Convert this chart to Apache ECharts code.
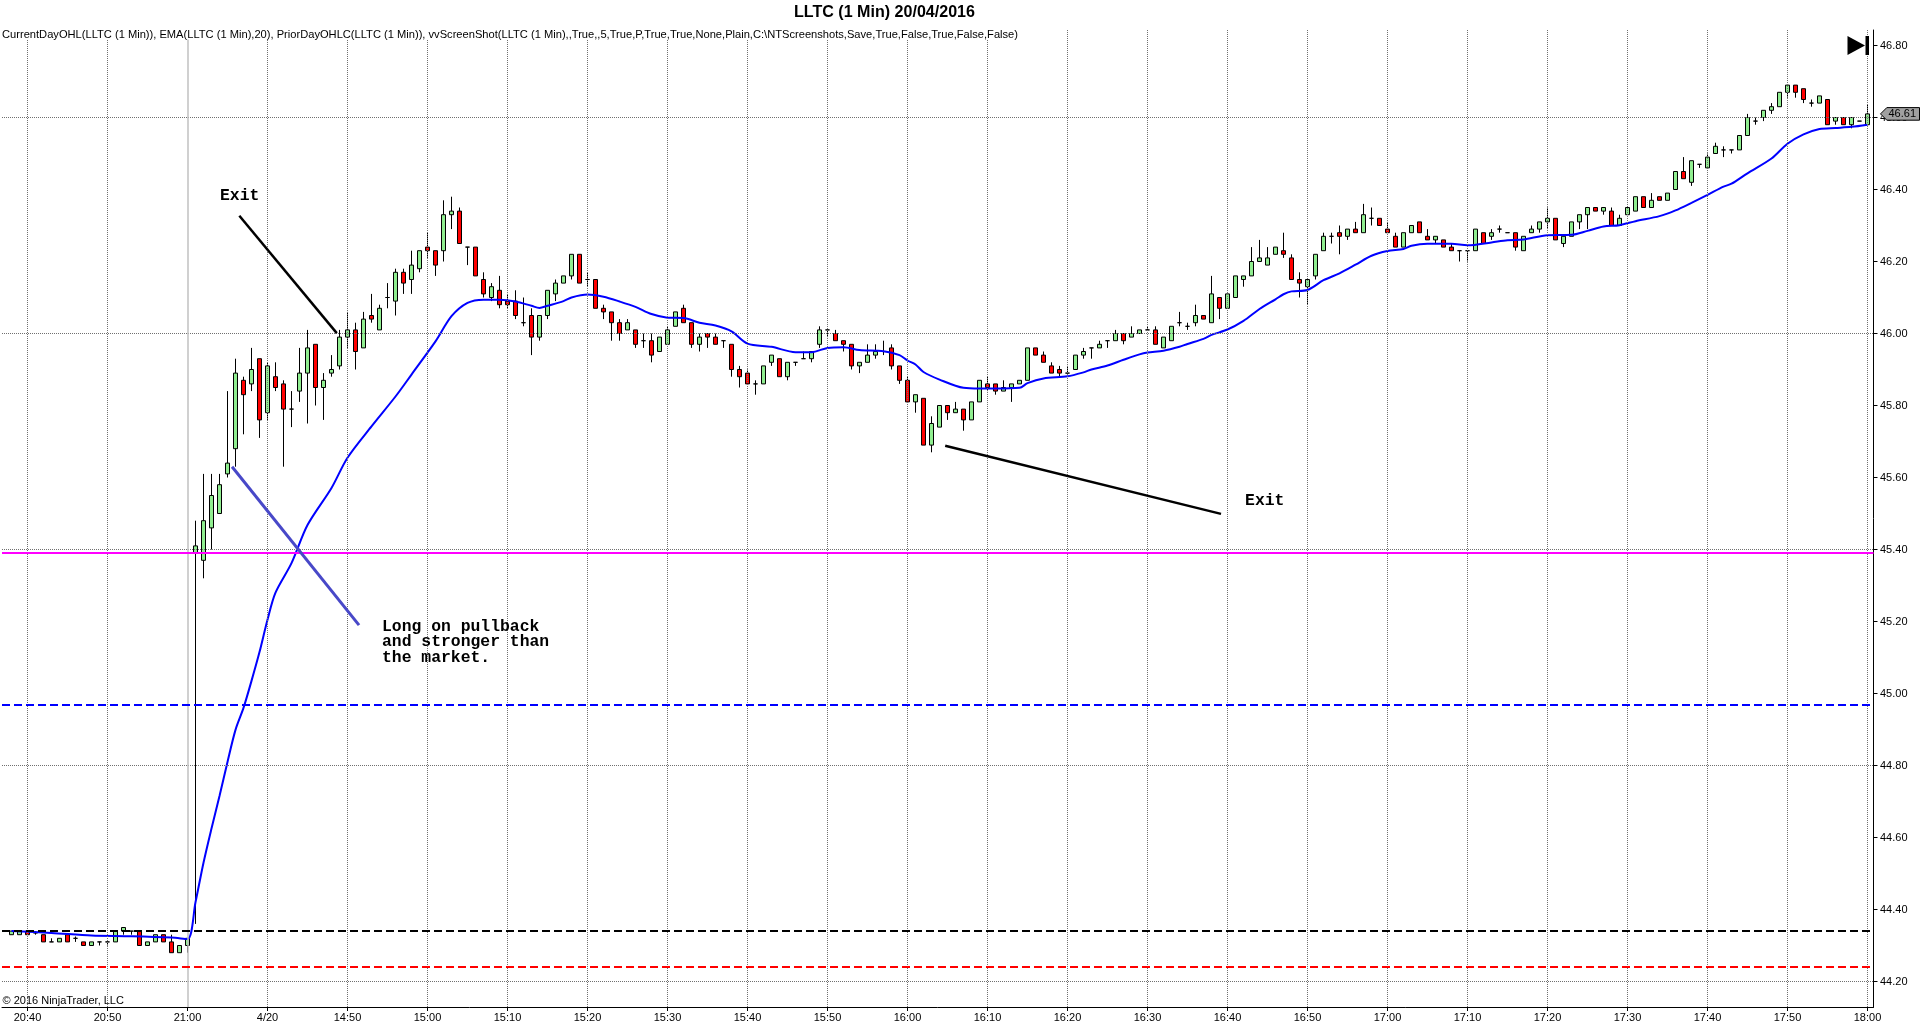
<!DOCTYPE html>
<html>
<head>
<meta charset="utf-8">
<script src="https://cdn.jsdelivr.net/npm/echarts@6/dist/echarts.min.js"></script>
<style>
html,body{margin:0;padding:0;background:#fff;}
#c{width:1920px;height:1034px;}
</style>
</head>
<body>
<div id="c"></div>
<script>
// ---------- DATA (bar index 0 = 19/04 20:38, 23 = 20/04 14:31, 232 = 18:00) ----------
const tickBars = [2,12,22,32,42,52,62,72,82,92,102,112,122,132,142,152,162,172,182,192,202,212,222,232];
const tickLabels = ['20:40','20:50','21:00','4/20','14:50','15:00','15:10','15:20','15:30','15:40','15:50','16:00','16:10','16:20','16:30','16:40','16:50','17:00','17:10','17:20','17:30','17:40','17:50','18:00'];
const priceTicks = [44.2,44.4,44.6,44.8,45.0,45.2,45.4,45.6,45.8,46.0,46.2,46.4,46.6,46.8];
const priceGrid = [44.2,44.8,45.4,46.0,46.6];
const sessionBreakBar = 22;

const opens = [
44.33,44.33,44.34,44.335,44.33,44.31,44.31,44.33,44.32,44.31,44.30,44.31,44.31,44.31,44.34,44.34,44.34,44.30,44.31,44.33,44.31,44.28,44.30,
45.39,45.37,45.46,45.50,45.61,45.68,45.87,45.86,45.93,
45.78,45.88,45.86,45.79,45.84,45.89,45.97,45.85,45.89,45.91,
45.99,46.01,45.96,46.05,46.01,46.10,46.09,46.17,46.15,46.18,
46.24,46.23,46.23,46.33,46.34,46.24,46.24,46.15,46.10,46.12,
46.09,46.09,46.03,46.05,45.99,46.05,46.11,46.14,46.16,46.22,
46.15,46.15,46.07,46.06,46.03,46.01,46.01,45.98,45.98,45.95,
45.97,46.02,46.07,46.03,45.97,46.00,45.99,45.98,45.97,45.90,
45.89,45.86,45.86,45.92,45.93,45.88,45.92,45.93,45.93,45.97,
46.01,46.00,45.98,45.97,45.91,45.92,45.94,45.95,45.96,45.91,
45.87,45.81,45.82,45.69,45.74,45.80,45.78,45.79,45.76,45.81,
45.86,45.86,45.84,45.85,45.86,45.87,45.96,45.94,45.91,45.90,
45.89,45.90,45.94,45.96,45.96,45.98,45.98,46.00,45.99,46.00,
46.01,46.01,45.96,45.98,46.03,46.02,46.03,46.05,46.03,46.10,
46.07,46.10,46.15,46.16,46.20,46.19,46.22,46.23,46.21,46.15,
46.13,46.16,46.23,46.27,46.28,46.27,46.29,46.28,46.32,46.32,
46.29,46.27,46.24,46.28,46.31,46.27,46.26,46.26,46.24,46.23,
46.23,46.23,46.28,46.27,46.29,46.28,46.28,46.23,46.28,46.29,
46.31,46.32,46.25,46.27,46.31,46.33,46.35,46.34,46.34,46.30,
46.33,46.34,46.38,46.35,46.38,46.37,46.40,46.45,46.42,46.47,
46.46,46.50,46.51,46.51,46.51,46.55,46.59,46.60,46.62,46.63,
46.67,46.69,46.68,46.64,46.64,46.65,46.59,46.60,46.58,46.59,46.58
];
const highs = [
44.34,44.34,44.34,44.34,44.33,44.32,44.32,44.33,44.325,44.31,44.31,44.31,44.31,44.34,44.35,44.34,44.34,44.31,44.33,44.33,44.33,44.30,44.32,
45.48,45.61,45.61,45.61,45.84,45.93,45.88,45.96,45.93,
45.92,45.92,45.87,45.84,45.96,46.01,45.97,45.89,45.94,46.01,
46.06,46.03,46.06,46.11,46.08,46.14,46.18,46.18,46.23,46.23,
46.28,46.23,46.37,46.38,46.35,46.24,46.24,46.17,46.14,46.16,
46.11,46.12,46.10,46.07,46.05,46.12,46.15,46.16,46.22,46.22,
46.17,46.15,46.08,46.06,46.04,46.04,46.01,46.00,46.00,45.99,
46.02,46.06,46.08,46.03,46.00,46.00,46.00,45.98,45.97,45.91,
45.90,45.87,45.91,45.94,45.93,45.92,45.92,45.95,45.95,46.02,
46.01,46.01,45.98,45.97,45.92,45.97,45.97,45.98,45.97,45.91,
45.88,45.83,45.82,45.77,45.80,45.80,45.81,45.79,45.81,45.87,
45.88,45.86,45.87,45.86,45.87,45.96,45.96,45.95,45.92,45.91,
45.91,45.94,45.96,45.96,45.98,45.98,46.01,46.00,46.02,46.01,
46.02,46.02,45.99,46.02,46.06,46.03,46.08,46.05,46.16,46.10,
46.11,46.16,46.16,46.24,46.26,46.24,46.24,46.28,46.22,46.17,
46.15,46.22,46.28,46.28,46.30,46.29,46.31,46.36,46.35,46.32,
46.31,46.28,46.28,46.30,46.31,46.29,46.27,46.26,46.25,46.23,
46.23,46.29,46.28,46.29,46.30,46.28,46.28,46.27,46.30,46.31,
46.35,46.32,46.27,46.31,46.33,46.35,46.35,46.35,46.35,46.33,
46.35,46.38,46.38,46.39,46.38,46.39,46.45,46.49,46.48,46.47,
46.50,46.53,46.52,46.51,46.55,46.61,46.60,46.62,46.64,46.67,
46.69,46.69,46.68,46.65,46.66,46.65,46.60,46.60,46.60,46.59,46.635
];
const lows = [
44.33,44.33,44.33,44.33,44.31,44.31,44.31,44.31,44.31,44.30,44.30,44.30,44.30,44.31,44.33,44.33,44.30,44.30,44.31,44.31,44.28,44.28,44.28,
44.36,45.32,45.40,45.50,45.60,45.63,45.72,45.84,45.71,
45.76,45.84,45.63,45.74,45.81,45.75,45.80,45.76,45.88,45.90,
45.96,45.90,45.96,46.03,46.01,46.07,46.05,46.11,46.11,46.17,
46.21,46.16,46.20,46.29,46.25,46.19,46.16,46.10,46.09,46.07,
46.07,46.04,46.02,45.94,45.98,46.04,46.09,46.14,46.15,46.14,
46.13,46.07,46.04,45.98,45.98,46.01,45.96,45.96,45.92,45.95,
45.97,46.02,46.03,45.96,45.95,45.96,45.97,45.96,45.88,45.85,
45.86,45.83,45.86,45.91,45.88,45.87,45.91,45.93,45.92,45.96,
45.99,45.98,45.95,45.90,45.89,45.92,45.93,45.94,45.90,45.86,
45.81,45.78,45.69,45.67,45.74,45.76,45.78,45.73,45.76,45.81,
45.84,45.83,45.84,45.81,45.86,45.87,45.94,45.92,45.89,45.88,
45.89,45.90,45.93,45.93,45.96,45.96,45.98,45.97,45.99,46.00,
46.01,45.97,45.96,45.98,46.02,46.01,46.02,46.04,46.03,46.04,
46.07,46.10,46.13,46.16,46.20,46.19,46.22,46.21,46.15,46.10,
46.08,46.15,46.23,46.25,46.22,46.26,46.28,46.28,46.30,46.30,
46.28,46.24,46.24,46.28,46.28,46.26,46.25,46.24,46.23,46.20,
46.20,46.23,46.25,46.26,46.28,46.28,46.23,46.23,46.28,46.28,
46.29,46.26,46.24,46.27,46.29,46.29,46.34,46.33,46.30,46.30,
46.33,46.34,46.35,46.35,46.37,46.37,46.40,46.43,46.41,46.46,
46.46,46.50,46.49,46.50,46.51,46.55,46.58,46.59,46.61,46.63,
46.655,46.655,46.64,46.63,46.64,46.58,46.58,46.58,46.57,46.59,46.58
];
const closes = [
44.34,44.34,44.33,44.335,44.31,44.31,44.32,44.31,44.32,44.30,44.31,44.31,44.31,44.34,44.35,44.34,44.30,44.31,44.33,44.31,44.28,44.30,44.32,
45.41,45.48,45.55,45.58,45.64,45.89,45.83,45.90,45.76,
45.91,45.85,45.79,45.79,45.89,45.96,45.85,45.87,45.90,45.99,
46.01,45.95,46.04,46.04,46.07,46.10,46.17,46.14,46.19,46.23,
46.23,46.19,46.33,46.34,46.25,46.24,46.16,46.11,46.13,46.08,
46.08,46.05,46.03,45.99,46.05,46.12,46.14,46.16,46.22,46.14,
46.15,46.07,46.06,46.03,46.00,46.03,45.97,45.98,45.94,45.99,
46.01,46.06,46.03,45.97,45.99,45.99,45.97,45.98,45.90,45.88,
45.86,45.86,45.91,45.94,45.88,45.92,45.92,45.93,45.95,46.01,
46.01,45.98,45.97,45.91,45.92,45.94,45.95,45.95,45.91,45.87,
45.81,45.83,45.69,45.75,45.80,45.78,45.79,45.76,45.81,45.87,
45.85,45.84,45.85,45.86,45.87,45.96,45.94,45.92,45.89,45.89,
45.89,45.94,45.95,45.96,45.97,45.98,46.00,45.98,46.00,46.01,
46.01,45.97,45.99,46.02,46.03,46.02,46.05,46.04,46.11,46.07,
46.11,46.16,46.16,46.20,46.21,46.21,46.24,46.22,46.15,46.14,
46.15,46.22,46.27,46.27,46.27,46.29,46.28,46.33,46.32,46.30,
46.28,46.24,46.28,46.30,46.28,46.26,46.27,46.24,46.23,46.23,
46.23,46.29,46.25,46.28,46.29,46.28,46.24,46.27,46.29,46.31,
46.32,46.26,46.27,46.31,46.33,46.35,46.34,46.35,46.30,46.32,
46.35,46.38,46.35,46.37,46.37,46.39,46.45,46.43,46.48,46.47,
46.49,46.52,46.51,46.51,46.55,46.60,46.59,46.62,46.63,46.67,
46.69,46.67,46.65,46.64,46.66,46.58,46.60,46.58,46.60,46.59,46.61
];

// EMA(20) at these bars
const emaBars = [0,5,10,15,20,22,23,24,25,26,27,28,29,30,31,32,33,35,37,40,42,45,48,50,53,55,57,59,61,63,65,66,67,69,70,72,74,76,78,80,82,84,86,88,90,92,95,98,100,102,104,106,109,111,112,113,114,116,119,121,123,126,127,129,132,134,135,137,139,141,142,144,146,147,149,150,152,154,156,158,159,160,162,164,166,168,170,172,174,175,177,180,182,185,187,189,192,195,197,199,201,203,206,208,210,212,214,215,217,220,222,224,226,228,230,232];
const emaValues = [44.340,44.335,44.328,44.326,44.322,44.318,44.420,44.530,44.625,44.715,44.810,44.899,44.960,45.035,45.115,45.205,45.280,45.362,45.468,45.571,45.655,45.742,45.825,45.886,45.978,46.048,46.085,46.094,46.094,46.089,46.077,46.071,46.077,46.090,46.100,46.108,46.102,46.089,46.074,46.054,46.044,46.043,46.030,46.022,46.006,45.972,45.963,45.948,45.948,45.960,45.962,45.954,45.951,45.940,45.925,45.914,45.893,45.872,45.849,45.847,45.847,45.849,45.862,45.875,45.881,45.892,45.900,45.911,45.927,45.942,45.947,45.952,45.963,45.971,45.985,45.996,46.011,46.035,46.068,46.095,46.109,46.117,46.121,46.148,46.167,46.191,46.216,46.229,46.235,46.244,46.249,46.249,46.245,46.253,46.259,46.261,46.273,46.274,46.285,46.297,46.301,46.312,46.326,46.342,46.363,46.385,46.408,46.416,46.445,46.486,46.527,46.553,46.568,46.571,46.574,46.580];

// Level lines
const currentDayOpen = 45.392;
const priorDayHigh = 44.973;
const priorDayClose = 44.342;
const priorDayLow = 44.241;
const lastPrice = 46.61;

// Hand-drawn annotations, anchored in (bar, price)
const exitLine1 = [[28.48, 46.327], [40.66, 46.001]];
const longLine = [[27.57, 45.630], [43.44, 45.190]];
const exitLine2 = [[116.71, 45.688], [151.19, 45.499]];
const annoTexts = ['Exit', 'Long on pullback\nand stronger than\nthe market.', 'Exit'];
const annoAnchors = [[26.06, 46.383], [46.31, 45.185], [154.2, 45.536]];

const titleText = 'LLTC (1 Min) 20/04/2016';
const indicatorText = 'CurrentDayOHL(LLTC (1 Min)), EMA(LLTC (1 Min),20), PriorDayOHLC(LLTC (1 Min)), vvScreenShot(LLTC (1 Min),,True,,5,True,P,True,True,None,Plain,C:\\NTScreenshots,Save,True,False,True,False,False)';
const copyrightText = '\u00A9 2016 NinjaTrader, LLC';

// ---------- CHART ----------
const candleData = opens.map((o, k) => [k, o, closes[k], lows[k], highs[k]]);
const emaData = emaBars.map((b, k) => [b, emaValues[k]]);

const FONT = '"Liberation Sans", Arial, sans-serif';
const dotted = {type: [1, 1], color: '#707070', width: 1};

const gridLines = [];
tickBars.forEach(b => { if (b !== sessionBreakBar) gridLines.push({xAxis: b, lineStyle: dotted}); });
priceGrid.forEach(p => gridLines.push({yAxis: p, lineStyle: dotted}));

const chart = echarts.init(document.getElementById('c'), null, {renderer: 'canvas'});
const option = {
  animation: false,
  backgroundColor: '#fff',
  grid: {left: 2, right: 46.5, top: 30, bottom: 27, containLabel: false},
  xAxis: {
    type: 'value', min: -1.1875, max: 232.75,
    axisLine: {show: true, onZero: false, lineStyle: {color: '#000', width: 1}},
    axisTick: {show: true, customValues: tickBars, length: 4, lineStyle: {color: '#000', width: 1}},
    axisLabel: {
      show: true, customValues: tickBars, margin: 5.5, color: '#000', fontSize: 11, fontFamily: FONT,
      formatter: v => tickLabels[Math.round((v - tickBars[0]) / 10)] || ''
    },
    splitLine: {show: false}
  },
  yAxis: {
    type: 'value', position: 'right', min: 44.129167, max: 46.843056,
    axisLine: {show: true, onZero: false, lineStyle: {color: '#000', width: 1}},
    axisTick: {show: true, customValues: priceTicks, length: 4, lineStyle: {color: '#000', width: 1}},
    axisLabel: {
      show: true, customValues: priceTicks, margin: 6.5, color: '#000', fontSize: 11, fontFamily: FONT,
      formatter: v => Number(v).toFixed(2)
    },
    splitLine: {show: false}
  },
  series: [
    {
      type: 'line', name: 'grid', data: [], silent: true, z: 1,
      markLine: {silent: true, symbol: ['none', 'none'], label: {show: false}, animation: false,
        emphasis: {disabled: true}, data: gridLines}
    },
    {
      type: 'line', name: 'levels', data: [], silent: true, z: 2,
      markLine: {silent: true, symbol: ['none', 'none'], label: {show: false}, animation: false,
        emphasis: {disabled: true},
        data: [
          {xAxis: sessionBreakBar, lineStyle: {type: 'solid', color: '#c0c0c0', width: 1.5}},
          {yAxis: currentDayOpen, lineStyle: {type: 'solid', color: '#ff00ff', width: 2}},
          {yAxis: priorDayHigh, lineStyle: {type: [8, 4], color: '#0000ff', width: 2}},
          {yAxis: priorDayClose, lineStyle: {type: [8, 4], color: '#000000', width: 2}},
          {yAxis: priorDayLow, lineStyle: {type: [8, 4], color: '#ff0000', width: 2}}
        ]}
    },
    {
      type: 'candlestick', name: 'LLTC', data: candleData,
      encode: {x: 0, y: [1, 2, 3, 4]},
      barWidth: 5, silent: true, z: 3,
      itemStyle: {color: '#90ee90', color0: '#ff0000', borderColor: '#000', borderColor0: '#000', borderColorDoji: '#000', borderWidth: 1}
    },
    {
      type: 'line', name: 'EMA', data: emaData, showSymbol: false, symbol: 'none', smooth: 0.3,
      silent: true, z: 4, lineStyle: {color: '#0000ff', width: 2}
    },
    {
      type: 'line', name: 'annotations', data: [], silent: true, z: 5,
      markLine: {silent: true, symbol: ['none', 'none'], label: {show: false}, animation: false,
        emphasis: {disabled: true},
        data: [
          [{coord: exitLine1[0], lineStyle: {type: 'solid', color: '#000', width: 2.5}}, {coord: exitLine1[1]}],
          [{coord: longLine[0], lineStyle: {type: 'solid', color: '#4848c8', width: 3}}, {coord: longLine[1]}],
          [{coord: exitLine2[0], lineStyle: {type: 'solid', color: '#000', width: 2.5}}, {coord: exitLine2[1]}]
        ]}
    }
  ]
};
chart.setOption(option);

// ---------- overlay texts / widgets ----------
function measure(text, font) {
  const ctx = document.createElement('canvas').getContext('2d');
  ctx.font = font;
  return ctx.measureText(text).width;
}
const P = (x, y) => chart.convertToPixel({xAxisIndex: 0, yAxisIndex: 0}, [x, y]);

const titleFont = 'bold 17px "Liberation Sans", Arial, sans-serif';
const titleScale = 181 / measure(titleText, titleFont);
const indFont = '11px "Liberation Sans", Arial, sans-serif';
const indScale = 1016 / measure(indicatorText, indFont);
const monoFont = 'bold 16.4px "Liberation Mono", "Courier New", monospace';
const monoLH = 15.3;

const graphics = [
  {type: 'text', x: 884.5, y: 12.5, scaleX: titleScale, z: 60, silent: true,
    style: {text: titleText, font: titleFont, fill: '#000', textAlign: 'center', textVerticalAlign: 'middle', align: 'center', verticalAlign: 'middle'}},
  {type: 'rect', shape: {x: 0, y: 30, width: 1022, height: 9.5}, style: {fill: '#fff'}, z: 59, silent: true},
  {type: 'text', x: 2, y: 35, scaleX: indScale, z: 60, silent: true,
    style: {text: indicatorText, font: indFont, fill: '#000', textAlign: 'left', textVerticalAlign: 'middle', align: 'left', verticalAlign: 'middle'}},
  {type: 'text', x: 2.5, y: 1000.7, z: 60, silent: true,
    style: {text: copyrightText, font: indFont, fill: '#000', textAlign: 'left', textVerticalAlign: 'middle', align: 'left', verticalAlign: 'middle'}},
  {type: 'polygon', shape: {points: [[1847.5, 36], [1865, 45.5], [1847.5, 55]]}, style: {fill: '#000'}, z: 60, silent: true},
  {type: 'rect', shape: {x: 1865.5, y: 36, width: 3.5, height: 19}, style: {fill: '#000'}, z: 60, silent: true}
];

annoTexts.forEach((t, k) => {
  const p = P(annoAnchors[k][0], annoAnchors[k][1]);
  graphics.push({type: 'text', x: p[0], y: p[1] - monoLH / 2, z: 60, silent: true,
    style: {text: t, font: monoFont, fill: '#000', lineHeight: monoLH, textAlign: 'left', textVerticalAlign: 'top', align: 'left', verticalAlign: 'top'}});
});

// last price marker
const ly = P(232, lastPrice)[1];
graphics.push({type: 'polygon', z: 70, silent: true,
  shape: {points: [[1880.5, ly], [1886.8, ly - 6.3], [1919.5, ly - 6.3], [1919.5, ly + 6.3], [1886.8, ly + 6.3]]},
  style: {fill: '#a0a0a0', stroke: '#000', lineWidth: 1}});
graphics.push({type: 'text', x: 1888.5, y: ly + 0.5, z: 71, silent: true,
  style: {text: lastPrice.toFixed(2), font: indFont, fill: '#000', textAlign: 'left', textVerticalAlign: 'middle', align: 'left', verticalAlign: 'middle'}});

chart.setOption({graphic: graphics});
</script>
</body>
</html>
